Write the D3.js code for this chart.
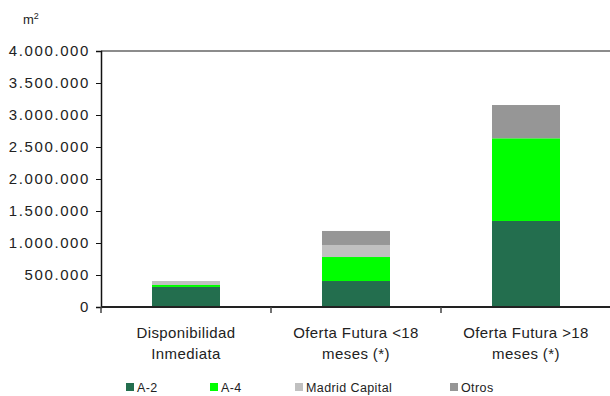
<!DOCTYPE html>
<html>
<head>
<meta charset="utf-8">
<script src="https://cdn.jsdelivr.net/npm/d3@7/dist/d3.min.js"></script>
<style>
  html, body { margin: 0; padding: 0; background: #fff; }
  svg { display: block; }
  text { font-family: "Liberation Sans", Arial, sans-serif; fill: #222; }
</style>
</head>
<body>
<svg id="chart" width="610" height="396"></svg>
<script>
// Superficie (m²) por zona y plazo de disponibilidad
const categories = [
  ["Disponibilidad", "Inmediata"],
  ["Oferta Futura <18", "meses (*)"],
  ["Oferta Futura >18", "meses (*)"]
];
const seriesNames = ["A-2", "A-4", "Madrid Capital", "Otros"];
const seriesColors = ["#236E4E", "#00FF00", "#C0C0C0", "#969696"];
const valuesA2 = [313000, 406000, 1344000];
const valuesA4 = [31000, 375000, 1292000];
const valuesMadrid = [62000, 188000, 0];
const valuesOtros = [0, 219000, 520000];
const yTicks = [0, 500000, 1000000, 1500000, 2000000, 2500000, 3000000, 3500000, 4000000];

const svg = d3.select("#chart");
const plotLeft = 101, plotRight = 611, plotTop = 51, plotBottom = 307;

const rows = categories.map((c, i) => ({
  key: i,
  "A-2": valuesA2[i],
  "A-4": valuesA4[i],
  "Madrid Capital": valuesMadrid[i],
  "Otros": valuesOtros[i]
}));
const stacked = d3.stack().keys(seriesNames)(rows);

const x = d3.scaleBand().domain(d3.range(categories.length)).range([plotLeft, plotRight]).paddingInner(0.6).paddingOuter(0.3);
const xGrid = d3.scaleBand().domain(d3.range(categories.length)).range([plotLeft, plotRight]);
const y = d3.scaleLinear().domain([0, 4000000]).range([plotBottom, plotTop]);
const color = d3.scaleOrdinal().domain(seriesNames).range(seriesColors);
const fmt = v => d3.format(",")(v).replace(/,/g, ".");

// top border of the plot area
svg.append("line")
  .attr("x1", plotLeft).attr("x2", 610).attr("y1", y(4000000)).attr("y2", y(4000000))
  .attr("stroke", "#666").attr("stroke-width", 1.5);

// stacked bars
svg.append("g").selectAll("g").data(stacked).join("g")
  .attr("fill", d => color(d.key))
  .selectAll("rect").data(d => d).join("rect")
  .attr("x", (d, i) => x(i))
  .attr("width", x.bandwidth())
  .attr("y", d => y(d[1]))
  .attr("height", d => y(d[0]) - y(d[1]));

// y axis
const yAxis = svg.append("g").attr("transform", `translate(${plotLeft},0)`)
  .call(d3.axisLeft(y).tickValues(yTicks).tickFormat(fmt).tickSize(5).tickPadding(6));
yAxis.select(".domain").attr("stroke", "#111").attr("stroke-width", 1.5);
yAxis.selectAll(".tick line").attr("stroke", "#111");
yAxis.selectAll("text").style("font-size", "15px").style("letter-spacing", "1.6px").attr("fill", "#222");

// x axis with category dividers
svg.append("line")
  .attr("x1", plotLeft).attr("x2", 610).attr("y1", plotBottom).attr("y2", plotBottom)
  .attr("stroke", "#222").attr("stroke-width", 2);
svg.append("g").selectAll("line").data(d3.range(categories.length)).join("line")
  .attr("x1", i => xGrid(i)).attr("x2", i => xGrid(i))
  .attr("y1", plotBottom).attr("y2", plotBottom + 6)
  .attr("stroke", "#444").attr("stroke-width", 1.5);

// category labels
const catG = svg.append("g").selectAll("text").data(categories).join("text")
  .attr("text-anchor", "middle")
  .style("font-size", "15px")
  .style("letter-spacing", "0.4px");
catG.each(function(lines, i) {
  const t = d3.select(this);
  lines.forEach((ln, j) => {
    t.append("tspan")
      .attr("x", xGrid(i) + xGrid.bandwidth() / 2)
      .attr("y", 338 + j * 21)
      .text(ln);
  });
});

// unit label
const unit = svg.append("text").attr("x", 23).attr("y", 24).style("font-size", "13px");
unit.append("tspan").text("m");
unit.append("tspan").attr("dy", -5).style("font-size", "9px").text("2");

// legend
const legendX = [126, 210, 295, 450];
const lg = svg.append("g").selectAll("g").data(seriesNames).join("g")
  .attr("transform", (d, i) => `translate(${legendX[i]},383)`);
lg.append("rect").attr("width", 8).attr("height", 8).attr("fill", d => color(d));
lg.append("text").attr("x", 11).attr("y", 8.5).style("font-size", "12.5px").style("letter-spacing", "0.4px").text(d => d);
</script>
</body>
</html>
